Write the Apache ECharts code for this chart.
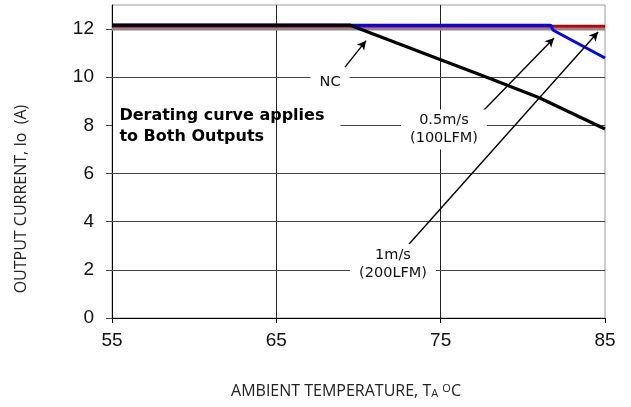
<!DOCTYPE html>
<html><head><meta charset="utf-8">
<script src="https://cdn.jsdelivr.net/npm/echarts@6/dist/echarts.min.js"></script>
<style>html,body{margin:0;padding:0;background:#fff}#c{width:631px;height:407px}</style>
</head><body><div id="c"></div>
<script>
// ---- data ----
const xTicks = [55, 65, 75, 85];
const yTicks = [0, 2, 4, 6, 8, 10, 12];
const ratedLine = [[55, 12], [85, 12]];
const curve1ms = [[55, 12.12], [85, 12.12]];
const curve05ms = [[55, 12.16], [81.7, 12.16], [81.85, 11.95], [85, 10.8]];
const curveNC = [[55, 12.16], [69.5, 12.16], [75, 10.73], [78, 9.95], [81, 9.15], [85, 7.85]];
const annotations = [
  { text: 'NC', at: [68.27, 9.80], from: [69.18, 10.42], to: [70.46, 11.52] },
  { text: '0.5m/s\n(100LFM)', at: [75.2, 7.83], from: [77.34, 8.43], to: [81.9, 11.63] },
  { text: '1m/s\n(200LFM)', at: [72.1, 2.22], from: [73.08, 3.07], to: [84.58, 11.88] }
];
const noteText = 'Derating curve applies\nto Both Outputs';
const noteAt = [55.45, 7.97];
const noteGridGapEnd = 68.9;

const chart = echarts.init(document.getElementById('c'), null, { renderer: 'canvas' });
const tickFont = { fontFamily: 'Liberation Sans', fontSize: 19, color: '#111' };

const hGrid = yTicks.slice(1, 6).map(v => v === 8
  ? [{ coord: [noteGridGapEnd, v] }, { coord: [xTicks[3], v] }]
  : [{ coord: [xTicks[0], v] }, { coord: [xTicks[3], v] }]);

chart.setOption({
  animation: false,
  backgroundColor: '#fff',
  grid: { left: 112, right: 26, top: 5, bottom: 89, show: true, borderColor: '#999', borderWidth: 1, backgroundColor: 'transparent' },
  xAxis: {
    type: 'value', min: xTicks[0], max: xTicks[xTicks.length - 1], interval: 10,
    axisLine: { show: true, onZero: false, lineStyle: { color: '#000', width: 1 } },
    axisTick: { show: true, length: 5, lineStyle: { color: '#000' } },
    axisLabel: Object.assign({ margin: 13 }, tickFont),
    splitLine: { show: true, showMinLine: false, showMaxLine: false, lineStyle: { color: '#222', width: 1 } }
  },
  yAxis: {
    type: 'value', min: 0, max: 13, interval: 1,
    axisLine: { show: true, lineStyle: { color: '#000', width: 1 } },
    axisTick: { show: true, length: 6, customValues: yTicks, lineStyle: { color: '#444' } },
    axisLabel: Object.assign({ margin: 18, customValues: yTicks }, tickFont),
    splitLine: { show: false }
  },
  series: [
    { type: 'line', data: [], symbol: 'none', silent: true, z: 1,
      markLine: { silent: true, symbol: 'none', label: { show: false },
        lineStyle: { color: '#444', width: 1, type: 'solid' }, data: hGrid } },
    { name: 'rated', type: 'line', data: ratedLine, symbol: 'none', silent: true,
      lineStyle: { color: '#8a8a8a', width: 3 }, z: 2 },
    { name: '1m/s', type: 'line', data: curve1ms, symbol: 'none', silent: true,
      lineStyle: { color: '#c00000', width: 3 }, z: 3 },
    { name: '0.5m/s', type: 'line', data: curve05ms, symbol: 'none', silent: true,
      lineStyle: { color: '#0000ff', width: 3 }, z: 4 },
    { name: 'NC', type: 'line', data: curveNC, symbol: 'none', silent: true,
      lineStyle: { color: '#000', width: 3.2 }, z: 5,
      markLine: { silent: true, symbol: ['none', 'arrow'], symbolSize: [7, 9], label: { show: false },
        lineStyle: { color: '#000', width: 1.4, type: 'solid' },
        data: annotations.map(a => [{ coord: a.from }, { coord: a.to }]) } }
  ]
});

const px = p => chart.convertToPixel({ gridIndex: 0 }, p);
const graphics = [];
annotations.forEach(a => {
  const p = px(a.at);
  graphics.push({ type: 'text', x: p[0], y: p[1], z: 50,
    style: { text: a.text, fill: '#111', font: '14.5px "DejaVu Sans"', align: 'center', verticalAlign: 'middle',
      lineHeight: 18, backgroundColor: '#fff', padding: [2, 9, 2, 9] } });
});
const np = px(noteAt);
graphics.push({ type: 'text', x: np[0], y: np[1], z: 50,
  style: { text: noteText, fill: '#000', font: 'bold 16px "DejaVu Sans"', align: 'left', verticalAlign: 'middle',
    lineHeight: 21 } });
graphics.push({ type: 'text', x: 21, y: 199, rotation: Math.PI / 2, z: 50,
  style: { text: 'OUTPUT CURRENT, Io  (A)', fill: '#222', font: '16px "Open Sans"', align: 'center', verticalAlign: 'middle' } });
graphics.push({ type: 'text', x: 346, y: 391, z: 50,
  style: { text: '{n|AMBIENT TEMPERATURE, T}{sub|A}{n| }{sup|O}{n|C}', align: 'center', verticalAlign: 'middle',
    rich: {
      n: { fontFamily: 'Open Sans', fontSize: 16, fill: '#222', lineHeight: 22, verticalAlign: 'middle' },
      sub: { fontFamily: 'Open Sans', fontSize: 11, fill: '#222', lineHeight: 22, verticalAlign: 'bottom', padding: [0, 0, 3, 0] },
      sup: { fontFamily: 'Open Sans', fontSize: 11, fill: '#222', lineHeight: 22, verticalAlign: 'top', padding: [3, 0, 0, 0] }
    } } });
chart.setOption({ graphic: graphics });
</script>
</body></html>
